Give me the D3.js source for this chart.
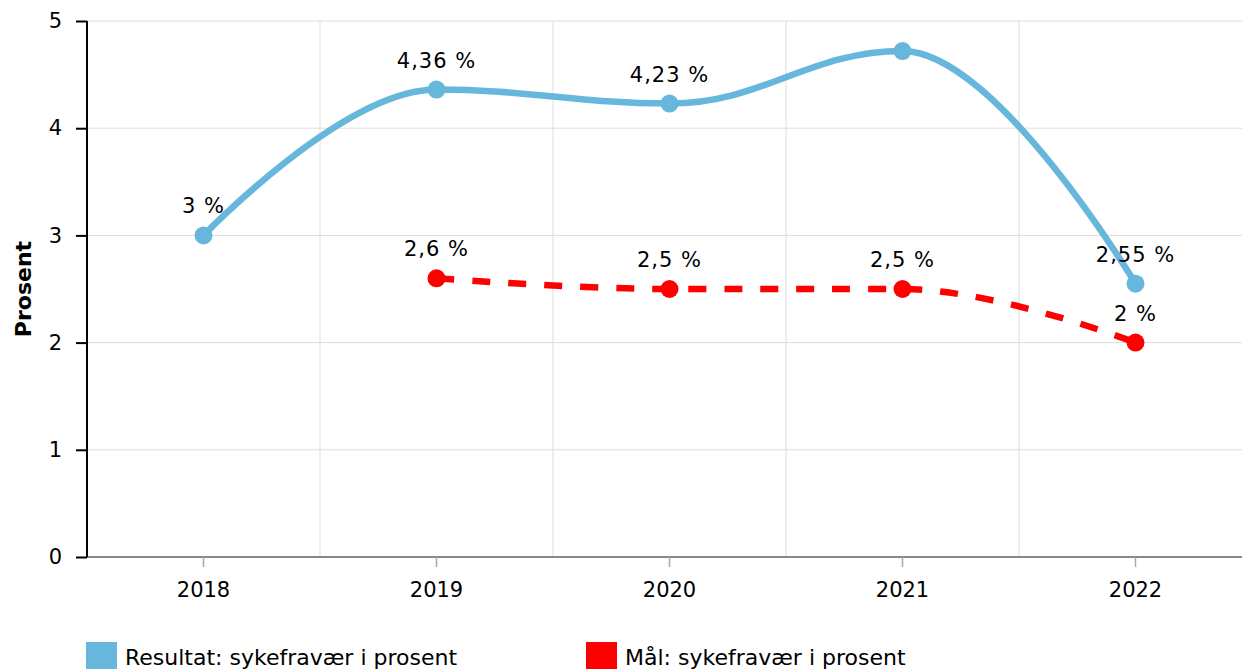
<!DOCTYPE html>
<html>
<head>
<meta charset="utf-8">
<script src="https://cdn.jsdelivr.net/npm/d3@7"></script>
<style>
  body { margin: 0; background: #fff; }
  svg { display: block; font-family: Verdana, "DejaVu Sans", sans-serif; }
</style>
</head>
<body>
<div id="chart"></div>
<script>
// Data
const years = ["2018", "2019", "2020", "2021", "2022"];
const resultat = [3, 4.36, 4.23, 4.72, 2.55];
const resultatLabels = ["3 %", "4,36 %", "4,23 %", null, "2,55 %"];
const maal = [null, 2.6, 2.5, 2.5, 2];
const maalLabels = [null, "2,6 %", "2,5 %", "2,5 %", "2 %"];
const yTicks = [0, 1, 2, 3, 4, 5];

const W = 1242, H = 669;
const plotLeft = 87, plotRight = 1252, plotTop = 21, plotBottom = 557;
const FONT = "Verdana, 'DejaVu Sans', sans-serif";

const svg = d3.select("#chart").append("svg")
  .attr("width", W).attr("height", H);

const x = d3.scaleBand().domain(years).range([plotLeft, plotRight]);
const y = d3.scaleLinear().domain([0, 5]).range([plotBottom, plotTop]);
const cx = d => x(d) + x.bandwidth() / 2;

// spline like the original charting tool (smoothing 1.5, no false extremes)
function splineCurve(context) {
  let pts = [];
  return {
    areaStart() {}, areaEnd() {},
    lineStart() { pts = []; },
    point(px, py) { pts.push([+px, +py]); },
    lineEnd() {
      const s = 1.5, den = s + 1;
      const ctrl = pts.map((p, i) => {
        if (i === 0 || i === pts.length - 1) return { l: p, r: p };
        const [lx, ly] = pts[i - 1], [nx, ny] = pts[i + 1], [x0, y0] = p;
        const lcx = (s * x0 + lx) / den, rcx = (s * x0 + nx) / den;
        let lcy = (s * y0 + ly) / den, rcy = (s * y0 + ny) / den;
        const corr = ((rcy - lcy) * (rcx - x0)) / (rcx - lcx) + y0 - rcy;
        lcy += corr; rcy += corr;
        if (lcy > ly && lcy > y0) { lcy = Math.max(ly, y0); rcy = 2 * y0 - lcy; }
        else if (lcy < ly && lcy < y0) { lcy = Math.min(ly, y0); rcy = 2 * y0 - lcy; }
        if (rcy > ny && rcy > y0) { rcy = Math.max(ny, y0); lcy = 2 * y0 - rcy; }
        else if (rcy < ny && rcy < y0) { rcy = Math.min(ny, y0); lcy = 2 * y0 - rcy; }
        return { l: [lcx, lcy], r: [rcx, rcy] };
      });
      pts.forEach((p, i) => {
        if (i === 0) context.moveTo(p[0], p[1]);
        else context.bezierCurveTo(ctrl[i - 1].r[0], ctrl[i - 1].r[1], ctrl[i].l[0], ctrl[i].l[1], p[0], p[1]);
      });
    }
  };
}

// grid
svg.append("g").selectAll("line").data(yTicks.slice(1)).join("line")
  .attr("x1", plotLeft).attr("x2", W)
  .attr("y1", d => y(d)).attr("y2", d => y(d))
  .attr("stroke", "#dddddd").attr("stroke-width", 1);

svg.append("g").selectAll("line").data(years.slice(1)).join("line")
  .attr("x1", d => x(d)).attr("x2", d => x(d))
  .attr("y1", plotTop).attr("y2", plotBottom)
  .attr("stroke", "#dddddd").attr("stroke-width", 1);

// x axis
const xAxis = svg.append("g")
  .attr("transform", `translate(0,${plotBottom})`)
  .call(d3.axisBottom(x).tickSize(10).tickPadding(15));
xAxis.select(".domain").attr("stroke", "#888").attr("stroke-width", 2)
  .attr("d", `M${plotLeft},0H${W}`);
xAxis.selectAll(".tick line").attr("stroke", "#aaa").attr("stroke-width", 1.5);
xAxis.selectAll(".tick text").attr("font-size", 21).attr("fill", "#000")
  .attr("font-family", FONT);

// y axis
const yAxis = svg.append("g")
  .attr("transform", `translate(${plotLeft},0)`)
  .call(d3.axisLeft(y).tickValues(yTicks).tickSize(11).tickPadding(14).tickFormat(d3.format("d")));
yAxis.select(".domain").attr("stroke", "#000").attr("stroke-width", 2)
  .attr("d", `M0,${plotTop}V${plotBottom}`);
yAxis.selectAll(".tick line").attr("stroke", "#000").attr("stroke-width", 2);
yAxis.selectAll(".tick text").attr("font-size", 21).attr("fill", "#000")
  .attr("font-family", FONT);

svg.append("text")
  .attr("transform", `translate(31,${(plotTop + plotBottom) / 2}) rotate(-90)`)
  .attr("text-anchor", "middle")
  .attr("font-size", 22).attr("font-weight", "bold")
  .text("Prosent");

// lines
const line = d3.line()
  .x(d => cx(d[0])).y(d => y(d[1]))
  .curve(splineCurve);

const blueData = years.map((yr, i) => [yr, resultat[i], resultatLabels[i]]);
const redData = years.map((yr, i) => [yr, maal[i], maalLabels[i]]).filter(d => d[1] != null);

svg.append("path").datum(blueData)
  .attr("d", line).attr("fill", "none")
  .attr("stroke", "#67b7dc").attr("stroke-width", 6.5);

svg.append("path").datum(redData)
  .attr("d", line).attr("fill", "none")
  .attr("stroke", "#ff0000").attr("stroke-width", 6.5)
  .attr("stroke-dasharray", "18,18");

function points(data, color) {
  svg.append("g").selectAll("circle").data(data).join("circle")
    .attr("cx", d => cx(d[0])).attr("cy", d => y(d[1]))
    .attr("r", 9).attr("fill", color);
  svg.append("g").selectAll("text").data(data.filter(d => d[2])).join("text")
    .attr("x", d => cx(d[0])).attr("y", d => y(d[1]) - 22)
    .attr("text-anchor", "middle").attr("font-size", 21).attr("fill", "#000")
    .attr("letter-spacing", 1)
    .text(d => d[2]);
}
points(blueData, "#67b7dc");
points(redData, "#ff0000");

// legend
const legend = [
  { name: "Resultat: sykefravær i prosent", color: "#67b7dc", x: 86 },
  { name: "Mål: sykefravær i prosent", color: "#ff0000", x: 586 }
];
const lg = svg.append("g").selectAll("g").data(legend).join("g")
  .attr("transform", d => `translate(${d.x},642)`);
lg.append("rect").attr("width", 31).attr("height", 31).attr("fill", d => d.color);
lg.append("text").attr("x", 39).attr("y", 23).attr("font-size", 22)
  .attr("fill", "#000").text(d => d.name);
</script>
</body>
</html>
